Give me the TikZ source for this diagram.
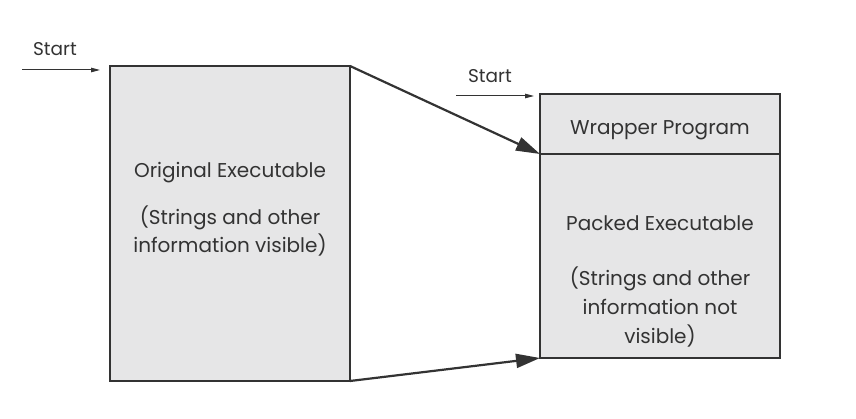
\documentclass[tikz,border=0pt]{standalone}
\usepackage{fontspec}
\setmainfont{Poppins}
\usetikzlibrary{arrows.meta}
\definecolor{boxfill}{HTML}{E6E6E7}
\definecolor{ink}{HTML}{333333}
\tikzset{
  blk/.style={draw=ink, line width=2pt, fill=boxfill},
  txt/.style={text=ink, font=\fontsize{20}{28}\selectfont, anchor=base, inner sep=0pt},
  bigarrow/.style={draw=ink, line width=2.2pt, -{Triangle[length=24pt,width=14pt]}},
  startarrow/.style={draw=ink, line width=1pt, -{Triangle[length=9pt,width=4.5pt]}},
  lbl/.style={text=ink, font=\fontsize{18.5}{22}\selectfont, anchor=base, inner sep=0pt}
}
\begin{document}
\begin{tikzpicture}[x=1pt,y=-1pt]
\useasboundingbox (0,0) rectangle (856,419);
% left box
\draw[blk] (110,66) rectangle (350,381);
\coordinate (LTR) at (350,66);
\coordinate (LBR) at (350,381);
\node[txt] (o1) at (230,178) {Original Executable};
\node[txt] (o2) at (230,225) {(Strings and other};
\node[txt] (o3) at (230,253) {information visible)};
% right box
\draw[blk] (540,94) rectangle (780,358);
\draw[draw=ink, line width=2pt] (540,154) -- (780,154);
\coordinate (RTL) at (540,154);
\coordinate (RBL) at (540,358);
\node[txt] (w1) at (660,135) {Wrapper Program};
\node[txt] (p1) at (660,231) {Packed Executable};
\node[txt] (p2) at (660,286) {(Strings and other};
\node[txt] (p3) at (660,315) {information not};
\node[txt] (p4) at (660,343) {visible)};
% connectors
\draw[bigarrow] (LTR) -- (RTL);
\draw[bigarrow] (LBR) -- (RBL);
% start arrows
\coordinate (s1a) at (22,70);
\coordinate (s1b) at (100,70);
\draw[startarrow] (s1a) -- (s1b);
\node[lbl] (start1) at (55,56) {Start};
\coordinate (s2a) at (456,96);
\coordinate (s2b) at (534,96);
\draw[startarrow] (s2a) -- (s2b);
\node[lbl] (start2) at (490,83) {Start};
\end{tikzpicture}
\end{document}
